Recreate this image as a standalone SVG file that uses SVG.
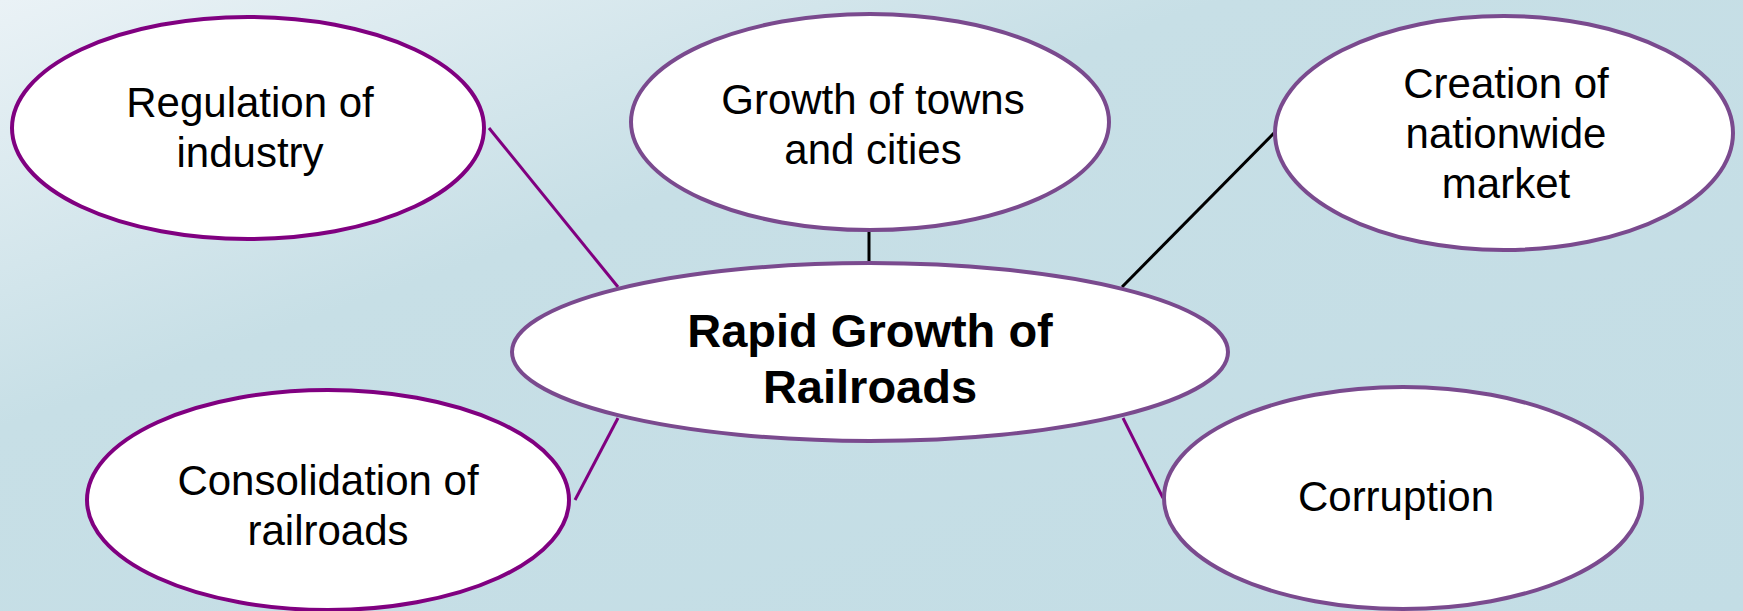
<svg xmlns="http://www.w3.org/2000/svg" width="1743" height="611" viewBox="0 0 1743 611">
  <defs>
    <linearGradient id="bg" x1="0" y1="0" x2="1" y2="1" gradientUnits="objectBoundingBox">
      <stop offset="0" stop-color="#eaf2f6"/>
      <stop offset="0.35" stop-color="#c7dfe6"/>
      <stop offset="1" stop-color="#c3dde5"/>
    </linearGradient>
    <style>
      .node { fill: #ffffff; stroke-width: 4; }
      .deep { stroke: #800080; }
      .soft { stroke: #7a4a8e; }
      .label { font-family: "Liberation Sans", Arial, sans-serif; font-size: 42px; fill: #000000; text-anchor: middle; }
      .title { font-family: "Liberation Sans", Arial, sans-serif; font-size: 47px; font-weight: bold; fill: #000000; text-anchor: middle; }
      .link { stroke-width: 3; fill: none; }
      .link.purple { stroke: #800080; }
      .link.black { stroke: #000000; }
    </style>
  </defs>

  <rect x="0" y="0" width="1743" height="611" fill="url(#bg)"/>

  <g id="connectors">
    <line class="link purple" x1="489" y1="128" x2="618" y2="287"/>
    <line class="link black" x1="869" y1="231" x2="869" y2="263"/>
    <line class="link black" x1="1274" y1="133" x2="1122" y2="287"/>
    <line class="link purple" x1="575" y1="500" x2="618" y2="418"/>
    <line class="link purple" x1="1123" y1="418" x2="1163" y2="498"/>
  </g>

  <g id="regulation">
    <ellipse class="node deep" cx="248" cy="128" rx="236" ry="111"/>
    <text class="label" x="250" y="117">Regulation of</text>
    <text class="label" x="250" y="167">industry</text>
  </g>

  <g id="towns">
    <ellipse class="node soft" cx="870" cy="122" rx="239" ry="108"/>
    <text class="label" x="873" y="114">Growth of towns</text>
    <text class="label" x="873" y="164">and cities</text>
  </g>

  <g id="market">
    <ellipse class="node soft" cx="1504" cy="133" rx="229" ry="117"/>
    <text class="label" x="1506" y="98">Creation of</text>
    <text class="label" x="1506" y="148">nationwide</text>
    <text class="label" x="1506" y="198">market</text>
  </g>

  <g id="railroads">
    <ellipse class="node soft" cx="870" cy="352" rx="358" ry="89"/>
    <text class="title" x="870" y="347">Rapid Growth of</text>
    <text class="title" x="870" y="403">Railroads</text>
  </g>

  <g id="consolidation">
    <ellipse class="node deep" cx="328" cy="500" rx="241" ry="110"/>
    <text class="label" x="328" y="495">Consolidation of</text>
    <text class="label" x="328" y="545">railroads</text>
  </g>

  <g id="corruption">
    <ellipse class="node soft" cx="1403" cy="498" rx="239" ry="111"/>
    <text class="label" x="1396" y="511">Corruption</text>
  </g>
</svg>
